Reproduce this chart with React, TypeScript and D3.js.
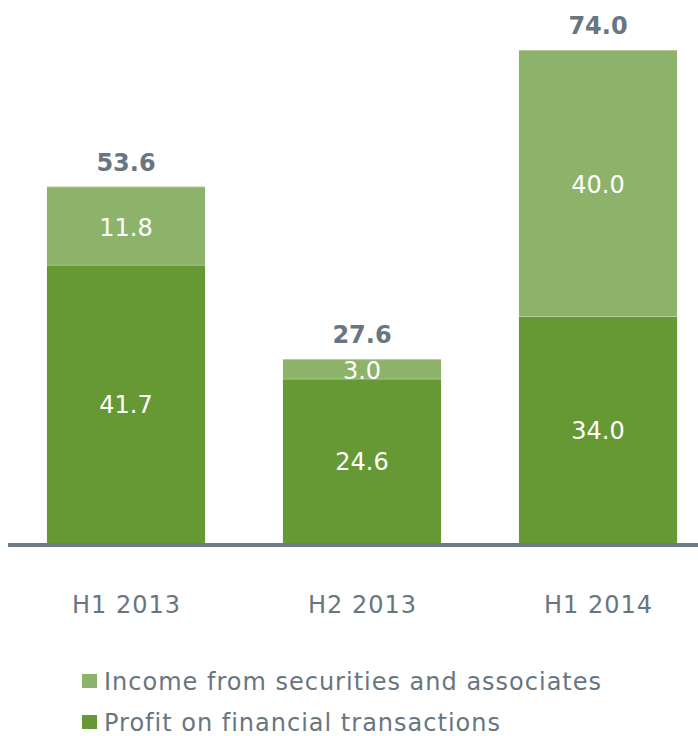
import React from "react";
import * as d3 from "d3";

const categories = ["H1 2013", "H2 2013", "H1 2014"];
const profitValues = [41.7, 24.6, 34.0];
const incomeValues = [11.8, 3.0, 40.0];
const totalValues = [53.6, 27.6, 74.0];
const seriesNames = ["Income from securities and associates", "Profit on financial transactions"];

const DARK = "#669933";
const LIGHT = "#8DB36A";
const TEXT = "#67767F";
const AXIS = "#6E7B84";
const FONT = "Verdana, 'DejaVu Sans', sans-serif";

export default function App() {
  const W = 698;
  const H = 736;
  const x = d3
    .scaleBand<string>()
    .domain(categories)
    .range([8, 716])
    .paddingInner(0.33)
    .paddingOuter(0.165);
  const y = d3.scaleLinear().domain([0, 74]).range([543, 50]);

  const rows = categories.map((c, i) => ({
    c,
    profit: profitValues[i],
    income: incomeValues[i],
    total: totalValues[i],
  }));

  return (
    <svg
      width={W}
      height={H}
      style={{ position: "absolute", left: 0, top: 0, display: "block" }}
      fontFamily={FONT}
    >
      {rows.map((r) => {
        const x0 = x(r.c)!;
        const bw = x.bandwidth();
        const cx = x0 + bw / 2;
        const yP = y(r.profit);
        const yT = y(r.profit + r.income);
        return (
          <g key={r.c}>
            <rect x={x0} y={yP} width={bw} height={y(0) - yP} fill={DARK} />
            <rect x={x0} y={yT} width={bw} height={yP - yT} fill={LIGHT} />
            <line x1={x0} x2={x0 + bw} y1={yP} y2={yP} stroke="#ffffff" strokeOpacity={0.25} strokeWidth={1} />
            <line x1={x0} x2={x0 + bw} y1={yT + 0.5} y2={yT + 0.5} stroke="#ffffff" strokeOpacity={0.3} strokeWidth={1} />
            <text x={cx} y={(yP + y(0)) / 2 + 9} textAnchor="middle" fontSize={24} fill="#ffffff">
              {r.profit.toFixed(1)}
            </text>
            <text x={cx} y={(yT + yP) / 2 + 10} textAnchor="middle" fontSize={24} fill="#ffffff">
              {r.income.toFixed(1)}
            </text>
            <text x={cx} y={yT - 16} textAnchor="middle" fontSize={24} fontWeight="bold" fill={TEXT}>
              {r.total.toFixed(1)}
            </text>
            <text x={cx + 0.5} y={613} textAnchor="middle" fontSize={24} letterSpacing={1} fill={TEXT}>
              {r.c}
            </text>
          </g>
        );
      })}
      <line x1={8} x2={698} y1={545} y2={545} stroke={AXIS} strokeWidth={4} />
      {seriesNames.map((s, i) => (
        <g key={s} transform={`translate(0, ${i * 41})`}>
          <rect x={82} y={674} width={15} height={14} fill={i === 0 ? LIGHT : DARK} />
          <text x={104} y={690} fontSize={24} letterSpacing={1} fill={TEXT}>
            {s}
          </text>
        </g>
      ))}
    </svg>
  );
}
